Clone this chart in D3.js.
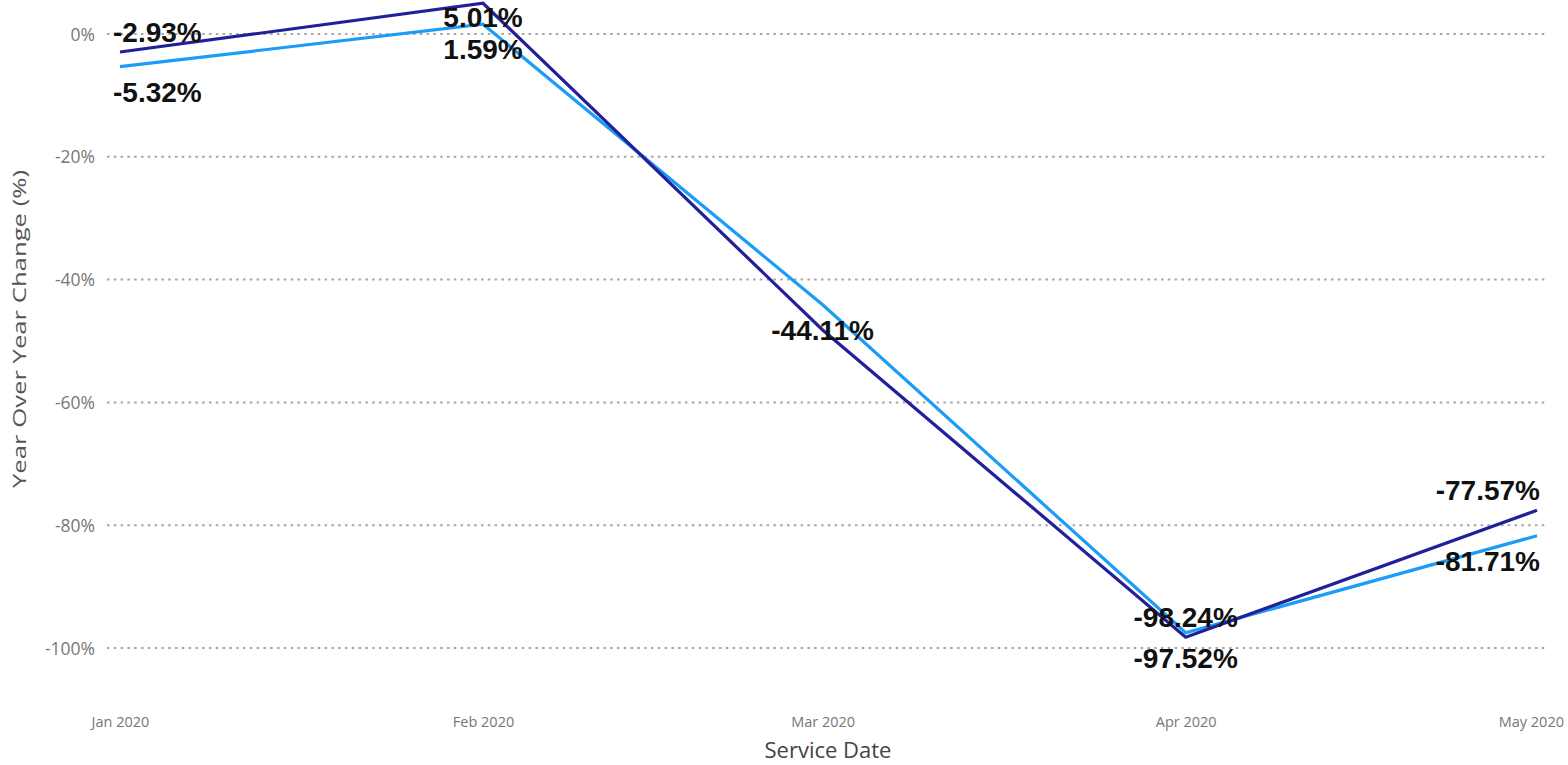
<!DOCTYPE html>
<html><head><meta charset="utf-8">
<script src="https://cdn.jsdelivr.net/npm/d3@7"></script>
<style>body{margin:0;background:#fff;} svg{display:block;}</style>
</head><body>
<svg id="c" width="1568" height="765"></svg>
<script>
const months = ["2020-01-01","2020-02-01","2020-03-01","2020-04-01","2020-05-01"];
const seriesDark = [-2.93, 5.01, -48.2, -98.24, -77.57];
const seriesLight = [-5.32, 1.59, -44.11, -97.52, -81.71];
const showDark = [true, true, false, true, true];
const showLight = [true, true, true, true, true];
const yTicks = [0, -20, -40, -60, -80, -100];

const parse = d3.timeParse("%Y-%m-%d");
const dates = months.map(parse);
const svg = d3.select("#c");
const x = d3.scaleTime().domain([dates[0], dates[dates.length - 1]]).range([120, 1537]);
const y = d3.scaleLinear().domain([0, -100]).range([34, 648]);

// gridlines
svg.append("g").selectAll("line").data(yTicks).join("line")
  .attr("x1", 107).attr("x2", 1546)
  .attr("y1", d => y(d)).attr("y2", d => y(d))
  .attr("stroke", "#a6a6a6").attr("stroke-width", 2)
  .attr("stroke-dasharray", "2.5,4.3");

// y axis
const yAxis = d3.axisLeft(y).tickValues(yTicks).tickFormat(d => d + "%").tickSize(0).tickPadding(0);
const gy = svg.append("g").attr("transform", "translate(95,0)").call(yAxis);
gy.select(".domain").remove();
gy.selectAll("text").attr("font-family", "'Open Sans', sans-serif").attr("font-size", 17.5)
  .attr("fill", "#777").attr("dy", "0.35em");

// x axis
const xAxis = d3.axisBottom(x).tickValues(dates).tickFormat(d3.timeFormat("%b %Y")).tickSize(0).tickPadding(0);
const gx = svg.append("g").attr("transform", "translate(0,717)").call(xAxis);
gx.select(".domain").remove();
gx.selectAll("text").attr("font-family", "'Open Sans', sans-serif").attr("font-size", 14.5)
  .attr("fill", "#777").attr("dy", "0.71em");
// keep the last tick label inside the frame
gx.selectAll(".tick").each(function () {
  const t = d3.select(this).select("text");
  const w = t.node().getComputedTextLength();
  const tx = +d3.select(this).attr("transform").match(/translate\(([-\d.]+)/)[1];
  const over = tx + w / 2 - 1564;
  if (over > 0) t.attr("x", -over);
});

// axis titles
svg.append("text").attr("x", 828).attr("y", 758).attr("text-anchor", "middle")
  .attr("font-family", "'Open Sans', sans-serif").attr("font-size", 22).attr("fill", "#444")
  .text("Service Date");
svg.append("text").attr("transform", "translate(26,329) rotate(-90)").attr("text-anchor", "middle")
  .attr("font-family", "'Open Sans', sans-serif").attr("font-size", 18).attr("fill", "#555")
  .attr("textLength", 318).attr("lengthAdjust", "spacingAndGlyphs")
  .text("Year Over Year Change (%)");

const line = d3.line().x((d, i) => x(dates[i])).y(d => y(d));
svg.append("path").datum(seriesLight).attr("d", line).attr("fill", "none")
  .attr("stroke", "#1b9cf6").attr("stroke-width", 3.2).attr("stroke-linejoin", "miter");
svg.append("path").datum(seriesDark).attr("d", line).attr("fill", "none")
  .attr("stroke", "#21209a").attr("stroke-width", 3.2).attr("stroke-linejoin", "miter");

// labels
const fs = 28;
function addLabels(data, show, above) {
  const g = svg.append("g");
  data.forEach((v, i) => {
    if (!show[i]) return;
    const px = x(dates[i]);
    let by = above ? y(v) - 10 : y(v) + 35;
    if (above) by = Math.max(by, 27);
    const t = g.append("text").attr("y", by)
      .attr("font-family", "'Liberation Sans', Arial, sans-serif").attr("font-weight", "bold")
      .attr("font-size", fs).attr("fill", "#111").attr("text-anchor", "start")
      .text(v.toFixed(2) + "%");
    const w = t.node().getComputedTextLength();
    let lx = px - w / 2;
    lx = Math.max(lx, 113);
    lx = Math.min(lx, 1540 - w);
    t.attr("x", lx);
  });
}
addLabels(seriesDark, showDark, true);
addLabels(seriesLight, showLight, false);
</script>
</body></html>
